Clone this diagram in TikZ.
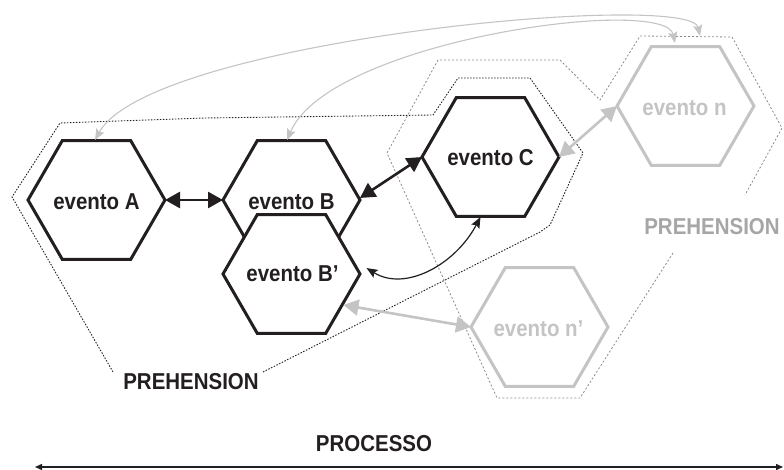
\documentclass[tikz,border=0pt]{standalone}
\usepackage{fontspec}
\setmainfont{Liberation Sans}[FakeStretch=0.89]
\usetikzlibrary{arrows.meta}
\definecolor{ink}{HTML}{231F20}
\definecolor{lite}{HTML}{C4C4C4}
\definecolor{mid}{HTML}{A6A6A6}
\definecolor{dotg}{HTML}{8C8C8C}
\newcommand\hexa[2]{%
  \draw[#2] ([shift={(-68.5,0)}]#1) -- ([shift={(-34.25,-59.3)}]#1)
    -- ([shift={(34.25,-59.3)}]#1) -- ([shift={(68.5,0)}]#1)
    -- ([shift={(34.25,59.3)}]#1) -- ([shift={(-34.25,59.3)}]#1) -- cycle;}
\begin{document}
\begin{tikzpicture}[x=1pt,y=-1pt,
  lbl/.style={font=\fontsize{23}{27}\selectfont\bfseries, inner sep=0pt},
  hexline/.style={line width=3pt, draw=ink, fill=white, line join=miter},
  hexgline/.style={hexline, draw=lite},
  bigarrow/.style={line width=2.6pt, draw=ink,
    {Triangle[length=15pt,width=16pt]}-{Triangle[length=15pt,width=16pt]}},
  bigarrowg/.style={bigarrow, draw=lite},
  thinarrow/.style={line width=1.2pt, draw=ink,
    {Stealth[length=11pt,width=9pt,inset=2pt]}-{Stealth[length=11pt,width=9pt,inset=2pt]}},
  thinarrowg/.style={thinarrow, line width=1.1pt, draw=lite},
  dotblk/.style={draw=ink, line width=0.9pt, dash pattern=on 1.5pt off 1.5pt},
  dotgry/.style={draw=dotg, line width=0.8pt, dash pattern=on 2pt off 2pt},
  procarrow/.style={line width=1.4pt, draw=ink,
    {Triangle[length=7pt,width=6pt]}-{Triangle[length=7pt,width=6pt]}}
]
\useasboundingbox (0,0) rectangle (784,470);

% prehension outlines
\draw[dotblk] (263,372) -- (540,232) -- (550,225) -- (583,153) -- (530,78) -- (458,78)
  -- (433,115) -- (205,118) -- (60,123) -- (12,197) -- (113,372);
\draw[dotgry] (673,253) -- (580,398) -- (497,398) -- (387,153) -- (438,60) -- (560,60)
  -- (600,100) -- (640,36) -- (732,37) -- (782,128) -- (745,195);

% event centres
\coordinate (A) at (96.5,200);
\coordinate (B) at (291.5,200);
\coordinate (Bp) at (291.5,274);
\coordinate (C) at (490.5,157);
\coordinate (n) at (685.5,106);
\coordinate (np) at (539.5,327);

% events
\hexa{A}{hexline}   \node[lbl, text=ink] (At) at ([shift={(0,1.5)}]A) {evento A};
\hexa{B}{hexline}   \node[lbl, text=ink] (Bt) at ([shift={(0,1.5)}]B) {evento B};
\hexa{Bp}{hexline}  \node[lbl, text=ink] (Bpt) at ([shift={(1,0)}]Bp) {evento B’};
\hexa{C}{hexline}   \node[lbl, text=ink] (Ct) at ([shift={(0,1)}]C) {evento C};
\hexa{n}{hexgline}  \node[lbl, text=lite] (nt) at ([shift={(-1,2)}]n) {evento n};
\hexa{np}{hexgline} \node[lbl, text=lite] (npt) at ([shift={(-1,2)}]np) {evento n’};

% labels
\node[lbl, text=ink] (preh1) at (191,382) {PREHENSION};
\node[lbl, text=mid] (preh2) at (712,227) {PREHENSION};
\node[lbl, text=ink] (proc) at (374,444) {PROCESSO};

% connectors
\draw[bigarrow] ([shift={(68.5,0)}]A) -- ([shift={(-68.5,0)}]B);
\draw[bigarrow] ([shift={(68.5,-2)}]B) -- ([shift={(-68.5,0)}]C);
\draw[bigarrowg] ([shift={(68.5,0)}]C) -- ([shift={(-68.5,0)}]n);
\draw[bigarrowg] ([shift={(52,31)}]Bp) -- ([shift={(-68.5,0)}]np);
\draw[thinarrow] ([shift={(75,-6)}]Bp) .. controls (405,292) and (455,265) .. ([shift={(-10,60)}]C);

\coordinate (nIn) at (675,43);
\coordinate (nOut) at (700,36);
\draw[thinarrowg] ([shift={(-1.5,-60)}]A) .. controls (150,40) and (690,-10) .. (nOut);
\draw[thinarrowg] ([shift={(-4.5,-60)}]B) .. controls (330,40) and (665,-5) .. (nIn);

\coordinate (pL) at (35,467);
\coordinate (pR) at (783,467);
\draw[procarrow] (pL) -- (pR);
\end{tikzpicture}
\end{document}
